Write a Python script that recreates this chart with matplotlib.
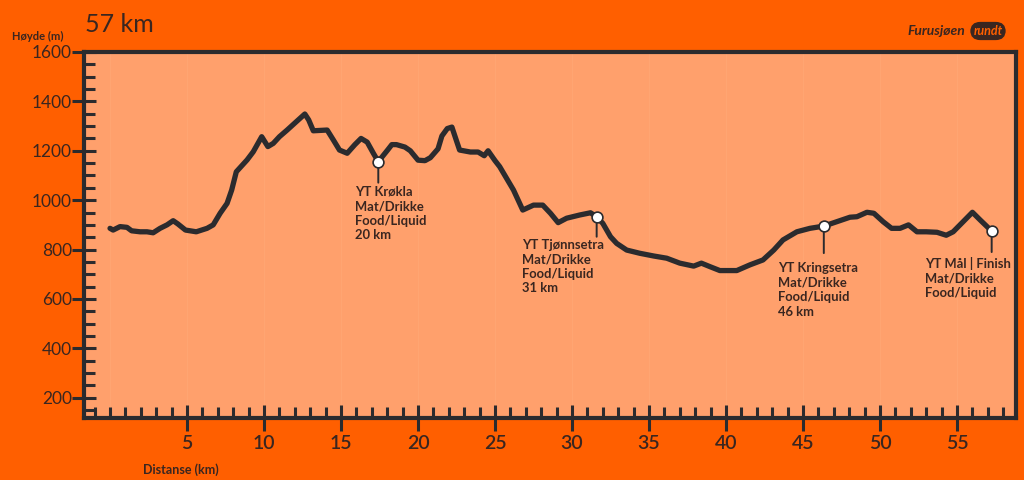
import matplotlib
matplotlib.use("Agg")
import matplotlib.pyplot as plt
from matplotlib.ticker import MultipleLocator, FixedLocator

# ---- data ----
distance_km = [0.0, 0.2, 0.65, 1.1, 1.4, 1.95, 2.4, 2.8, 3.25, 3.7, 4.1, 4.4, 4.9, 5.6, 6.3, 6.7,
               7.15, 7.6, 7.9, 8.2, 8.9, 9.3, 9.85, 10.25, 10.6, 11.0, 11.5, 12.1, 12.65, 12.9,
               13.2, 14.1, 14.5, 14.9, 15.4, 15.9, 16.3, 16.7, 17.1, 17.42, 18.05, 18.3, 18.6,
               19.15, 19.5, 20.0, 20.45, 20.8, 21.3, 21.55, 21.9, 22.2, 22.5, 22.7, 23.4, 23.9,
               24.3, 24.55, 25.0, 25.3, 26.2, 26.8, 27.5, 28.1, 28.6, 29.1, 29.65, 30.5, 31.2,
               31.6, 32.0, 32.5, 32.9, 33.55, 34.4, 35.3, 36.15, 37.0, 37.9, 38.4, 38.95, 39.6,
               40.7, 41.55, 42.4, 43.1, 43.7, 44.6, 45.45, 46.35, 47.2, 48.05, 48.5, 49.15,
               49.6, 50.2, 50.75, 51.3, 51.85, 52.4, 53.0, 53.7, 54.3, 54.75, 55.4, 56.0, 56.5,
               57.25]
elevation_m = [886, 879, 893, 890, 876, 872, 872, 868, 886, 900, 917, 904, 879, 872, 886, 900,
               947, 987, 1041, 1115, 1163, 1196, 1257, 1217, 1230, 1257, 1284, 1318, 1349, 1325,
               1281, 1284, 1244, 1203, 1190, 1225, 1250, 1235, 1190, 1156, 1205, 1225, 1225,
               1215, 1200, 1162, 1160, 1172, 1208, 1260, 1290, 1296, 1240, 1203, 1195, 1195,
               1180, 1200, 1160, 1136, 1041, 960, 980, 980, 947, 909, 927, 940, 949,
               933, 906, 852, 825, 798, 785, 774, 765, 745, 733, 745, 731, 715,
               715, 738, 758, 798, 839, 872, 886, 895, 913, 931, 933, 951,
               947, 913, 886, 886, 900, 872, 872, 870, 858, 872, 913, 951, 920,
               875]

checkpoint_km = [17.42, 31.6, 46.35, 57.25]
checkpoint_elev = [1156, 933, 895, 875]
checkpoint_labels = [
    "YT Krøkla\nMat/Drikke\nFood/Liquid\n20 km",
    "YT Tjønnsetra\nMat/Drikke\nFood/Liquid\n31 km",
    "YT Kringsetra\nMat/Drikke\nFood/Liquid\n46 km",
    "YT Mål | Finish\nMat/Drikke\nFood/Liquid",
]
x_major_ticks = [5, 10, 15, 20, 25, 30, 35, 40, 45, 50, 55]
y_major_ticks = [200, 400, 600, 800, 1000, 1200, 1400, 1600]

# ---- style ----
OUTER = "#FF5F00"
INNER = "#FFA06C"
DARK = "#2B2B2E"
TEXT = "#3A2620"
PX = 0.72  # points per pixel at dpi 100

plt.rcParams['font.family'] = ['Lato', 'DejaVu Sans']

fig = plt.figure(figsize=(10.24, 4.8), dpi=100, facecolor=OUTER)
ax = fig.add_axes([84/1024, 1-418/480, (1016-84)/1024, (418-52)/480])
ax.set_facecolor(INNER)

ax.set_xlim(-1.69, 58.83)
ax.set_ylim(118, 1600)

# faint vertical grid
for gx in [0] + x_major_ticks:
    ax.axvline(gx, color="#FFA774", lw=0.6, zorder=0.5)

ax.plot(distance_km, elevation_m, color=DARK, lw=3.8, solid_joinstyle='round',
        solid_capstyle='round', zorder=3)

ax.scatter(checkpoint_km, checkpoint_elev, s=60, facecolor="white", edgecolor=DARK,
           linewidth=1.2, zorder=5)

offsets = [(-23, -24, -21), (-75, -22, -20), (-46, -36, -27), (-67, -26, -21)]
for xk, yk, lab, (dx, dy, ll) in zip(checkpoint_km, checkpoint_elev, checkpoint_labels, offsets):
    ax.annotate('', xy=(xk, yk), xytext=(0, ll*PX), textcoords='offset points',
                arrowprops=dict(arrowstyle='-', color=DARK, lw=1.4, shrinkA=0, shrinkB=0),
                zorder=4)
    ax.annotate(lab, xy=(xk, yk), xytext=(dx*PX, dy*PX), textcoords='offset points',
                ha='left', va='top', fontsize=9.4, fontweight='bold', color=TEXT,
                linespacing=1.25, zorder=6)

for s in ax.spines.values():
    s.set_color(DARK)
    s.set_linewidth(3)

ax.xaxis.set_major_locator(FixedLocator(x_major_ticks))
ax.xaxis.set_minor_locator(MultipleLocator(1))
ax.yaxis.set_major_locator(FixedLocator(y_major_ticks))
ax.yaxis.set_minor_locator(MultipleLocator(50))

ax.tick_params(axis='x', which='major', direction='inout', length=26*PX, width=2.2,
               color=DARK, labelsize=14, labelcolor=TEXT, pad=3)
ax.tick_params(axis='x', which='minor', direction='in', length=11*PX, width=2.2, color=DARK)
ax.tick_params(axis='y', which='major', direction='inout', length=24*PX, width=2.2,
               color=DARK, labelsize=12.5, labelcolor=TEXT, pad=0)
ax.tick_params(axis='y', which='minor', direction='in', length=11*PX, width=2.2, color=DARK)
for lab in ax.get_xticklabels():
    lab.set_fontweight('semibold')

fig.text(85/1024, 1-25/480, "57 km", fontsize=18, color=TEXT, ha='left', va='center')
fig.text(12/1024, 1-36/480, "Høyde (m)", fontsize=8, fontweight='bold', color=TEXT,
         ha='left', va='center')
fig.text(143/1024, 1-470/480, "Distanse (km)", fontsize=9, fontweight='bold', color=TEXT,
         ha='left', va='center')

# logo
fig.text(965/1024, 1-31/480, "Furusjøen", fontsize=10, fontweight='bold', style='italic',
         color=TEXT, ha='right', va='center')
fig.text(988/1024, 1-31/480, "rundt", fontsize=9, fontweight='bold', style='italic',
         color=OUTER, ha='center', va='center',
         bbox=dict(boxstyle='round,pad=0.25,rounding_size=0.8', fc=TEXT, ec='none'))

fig.savefig("out.png", dpi=100, facecolor=OUTER)
